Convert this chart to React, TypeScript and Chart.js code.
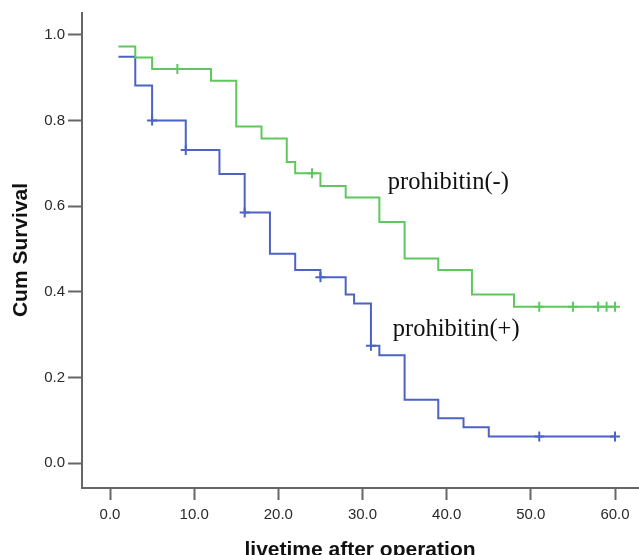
import React, { useEffect, useRef } from "react";
import { Chart, registerables } from "chart.js";

Chart.register(...registerables);

// prohibitin(-) : step times and survival after each step
const negTimes = [1, 3, 5, 12, 15, 18, 21, 22, 25, 28, 32, 35, 39, 43, 48, 60];
const negSurv = [0.973, 0.947, 0.92, 0.893, 0.786, 0.758, 0.703, 0.677, 0.647, 0.62, 0.563, 0.478, 0.451, 0.394, 0.365, 0.365];
const negCensTimes = [8, 24, 51, 55, 58, 59, 60];
const negCensSurv = [0.92, 0.677, 0.365, 0.365, 0.365, 0.365, 0.365];

// prohibitin(+)
const posTimes = [1, 3, 5, 9, 13, 16, 19, 22, 25, 28, 29, 31, 32, 35, 39, 42, 45, 60];
const posSurv = [0.949, 0.882, 0.8, 0.731, 0.675, 0.585, 0.489, 0.451, 0.434, 0.394, 0.373, 0.274, 0.252, 0.148, 0.105, 0.084, 0.062, 0.062];
const posCensTimes = [5, 9, 16, 25, 31, 51, 60];
const posCensSurv = [0.8, 0.731, 0.585, 0.434, 0.274, 0.062, 0.062];

const xTickValues = [0, 10, 20, 30, 40, 50, 60];
const yTickValues = [0, 0.2, 0.4, 0.6, 0.8, 1.0];

const groupLabels = ["prohibitin(-)", "prohibitin(+)"];
const labelAt = [
  { x: 33.0, y: 0.654 },
  { x: 33.6, y: 0.311 },
];

const GREEN = "#5ec85e";
const BLUE = "#4c63c4";

const toPts = (xs: number[], ys: number[]) => xs.map((x, i) => ({ x, y: ys[i] }));

export default function App() {
  const ref = useRef<HTMLCanvasElement | null>(null);
  useEffect(() => {
    if (!ref.current) return;
    const textPlugin = {
      id: "texts",
      afterDraw(chart: any) {
        const ctx = chart.ctx;
        const xs = chart.scales.x;
        const ys = chart.scales.y;
        ctx.save();
        // x tick labels
        ctx.fillStyle = "#2a2a2a";
        ctx.font = "15px 'Liberation Sans'";
        ctx.textAlign = "center";
        ctx.textBaseline = "middle";
        xTickValues.forEach((v) => {
          ctx.fillText(v.toFixed(1), xs.getPixelForValue(v), 515);
        });
        ctx.fillStyle = "#111";
        ctx.font = "24.5px 'Liberation Serif'";
        ctx.textAlign = "left";
        ctx.textBaseline = "middle";
        groupLabels.forEach((t, i) => {
          ctx.fillText(t, xs.getPixelForValue(labelAt[i].x), ys.getPixelForValue(labelAt[i].y));
        });
        ctx.font = "bold 21px 'Liberation Sans'";
        ctx.textAlign = "center";
        ctx.textBaseline = "alphabetic";
        ctx.fillText("livetime after operation", 360, 556);
        ctx.translate(27, 250);
        ctx.rotate(-Math.PI / 2);
        ctx.fillText("Cum Survival", 0, 0);
        ctx.restore();
      },
    };
    const chart = new Chart(ref.current, {
      type: "line",
      data: {
        datasets: [
          {
            data: toPts(negTimes, negSurv),
            borderColor: GREEN,
            borderWidth: 2,
            stepped: "before",
            pointRadius: 0,
            fill: false,
          },
          {
            data: toPts(posTimes, posSurv),
            borderColor: BLUE,
            borderWidth: 2,
            stepped: "before",
            pointRadius: 0,
            fill: false,
          },
          {
            data: toPts(negCensTimes, negCensSurv),
            showLine: false,
            pointStyle: "cross",
            pointRadius: 5,
            pointBorderColor: GREEN,
            pointBorderWidth: 2,
          },
          {
            data: toPts(posCensTimes, posCensSurv),
            showLine: false,
            pointStyle: "cross",
            pointRadius: 5,
            pointBorderColor: BLUE,
            pointBorderWidth: 2,
          },
        ],
      },
      options: {
        animation: false,
        responsive: false,
        layout: { autoPadding: false, padding: { top: 13, left: 0, right: 0, bottom: 0 } },
        plugins: { legend: { display: false }, tooltip: { enabled: false } },
        scales: {
          x: {
            type: "linear",
            min: -3.33,
            max: 62.85,
            afterBuildTicks: (s: any) => {
              s.ticks = xTickValues.map((v) => ({ value: v }));
            },
            afterFit: (s: any) => {
              s.height = 67;
              s.paddingLeft = 0;
              s.paddingRight = 0;
            },
            grid: { drawOnChartArea: false, drawTicks: true, tickLength: 12, tickColor: "#666", tickWidth: 2 },
            border: { display: true, color: "#666", width: 2 },
            ticks: { display: false },
          },
          y: {
            type: "linear",
            min: -0.058,
            max: 1.051,
            afterBuildTicks: (s: any) => {
              s.ticks = yTickValues.map((v) => ({ value: v }));
            },
            afterFit: (s: any) => {
              s.width = 82;
              s.paddingTop = 0;
              s.paddingBottom = 0;
            },
            grid: { drawOnChartArea: false, drawTicks: true, tickLength: 14, tickColor: "#666", tickWidth: 2 },
            border: { display: true, color: "#666", width: 2 },
            ticks: {
              padding: 3,
              color: "#2a2a2a",
              font: { family: "'Liberation Sans'", size: 15 },
              callback: (v: any) => Number(v).toFixed(1),
            },
          },
        },
      },
      plugins: [textPlugin],
    } as any);
    return () => chart.destroy();
  }, []);
  return (
    <div style={{ position: "fixed", left: 0, top: 0, width: 639, height: 555, background: "#fff" }}>
      <canvas ref={ref} width={639} height={555} style={{ display: "block" }} />
    </div>
  );
}
